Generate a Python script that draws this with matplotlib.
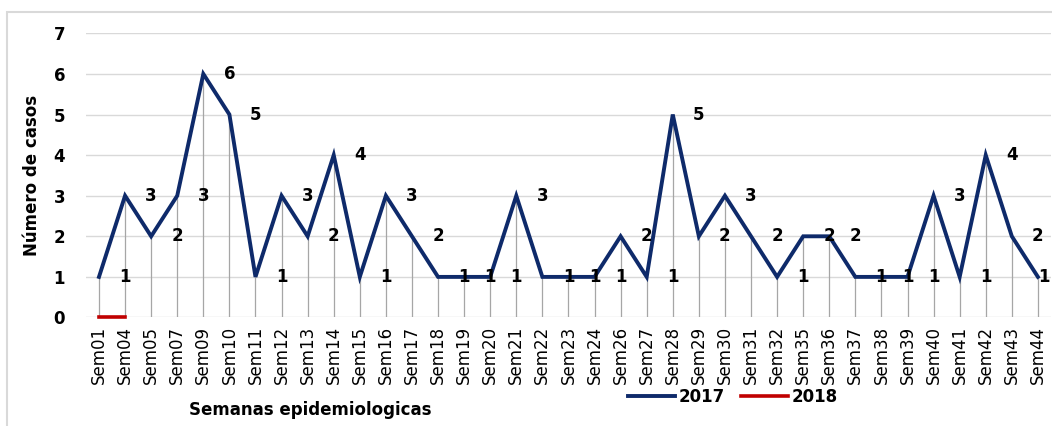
import matplotlib.pyplot as plt
from matplotlib.patches import Rectangle

semanas = ["Sem01", "Sem04", "Sem05", "Sem07", "Sem09", "Sem10", "Sem11", "Sem12",
           "Sem13", "Sem14", "Sem15", "Sem16", "Sem17", "Sem18", "Sem19", "Sem20",
           "Sem21", "Sem22", "Sem23", "Sem24", "Sem26", "Sem27", "Sem28", "Sem29",
           "Sem30", "Sem31", "Sem32", "Sem35", "Sem36", "Sem37", "Sem38", "Sem39",
           "Sem40", "Sem41", "Sem42", "Sem43", "Sem44"]
casos_2017 = [1, 3, 2, 3, 6, 5, 1, 3, 2, 4, 1, 3, 2, 1, 1, 1, 3, 1, 1, 1, 2, 1, 5, 2,
              3, 2, 1, 2, 2, 1, 1, 1, 3, 1, 4, 2, 1]
casos_2018 = [0, 0]

navy = "#0E2A6A"
red = "#C00000"

fig = plt.figure(figsize=(10.52, 4.26), dpi=100)
ax = fig.add_axes([0.0817, 0.2547, 0.9173, 0.6671])

x = list(range(len(semanas)))
n = len(semanas)

# drop lines
ax.vlines(x, 0, casos_2017, colors="#A6A6A6", linewidth=0.9, zorder=1)

ax.plot(x, casos_2017, color=navy, linewidth=2.8, label="2017", zorder=3,
        solid_joinstyle="miter")
ax.plot(x[:len(casos_2018)], casos_2018, color=red, linewidth=2.6, label="2018",
        zorder=4, clip_on=False)

# data labels (drawn one category to the right, as in the original)
for i, v in enumerate(casos_2017):
    ax.text(min(i + 1, n - 0.78), v, str(v), ha="center", va="center",
            fontsize=12, fontweight="bold", color="black", clip_on=False, zorder=5)

ax.set_xlim(-0.5, n - 0.5)
ax.set_ylim(0, 7)
ax.set_yticks(range(0, 8))
ax.yaxis.grid(True, color="#D9D9D9", linewidth=1)
ax.set_axisbelow(True)
ax.set_xticks(x)
ax.set_xticklabels(semanas, rotation=90, fontsize=12)
for lab in ax.get_yticklabels():
    lab.set_fontweight("bold")
    lab.set_fontsize(12)
ax.tick_params(axis="both", length=0, pad=6)
ax.tick_params(axis="y", pad=15)
for s in ax.spines.values():
    s.set_visible(False)

ax.set_ylabel("Número de casos", fontsize=12, fontweight="bold", labelpad=9)
fig.text(310 / 1052, 1 - 410 / 426, "Semanas epidemiologicas", ha="center",
         va="center", fontsize=12, fontweight="bold")

fig.legend(loc="center", bbox_to_anchor=(733 / 1052, 1 - 397 / 426), ncol=2,
           frameon=False, prop={"weight": "bold", "size": 12}, handlelength=2.8,
           columnspacing=1.0, handletextpad=0.2)

fig.patches.append(Rectangle((7 / 1052, -0.1), 1.2, 1 - 12 / 426 + 0.1,
                             transform=fig.transFigure, fill=False,
                             edgecolor="#D9D9D9", linewidth=1.5))

fig.savefig("out.png", dpi=100)
